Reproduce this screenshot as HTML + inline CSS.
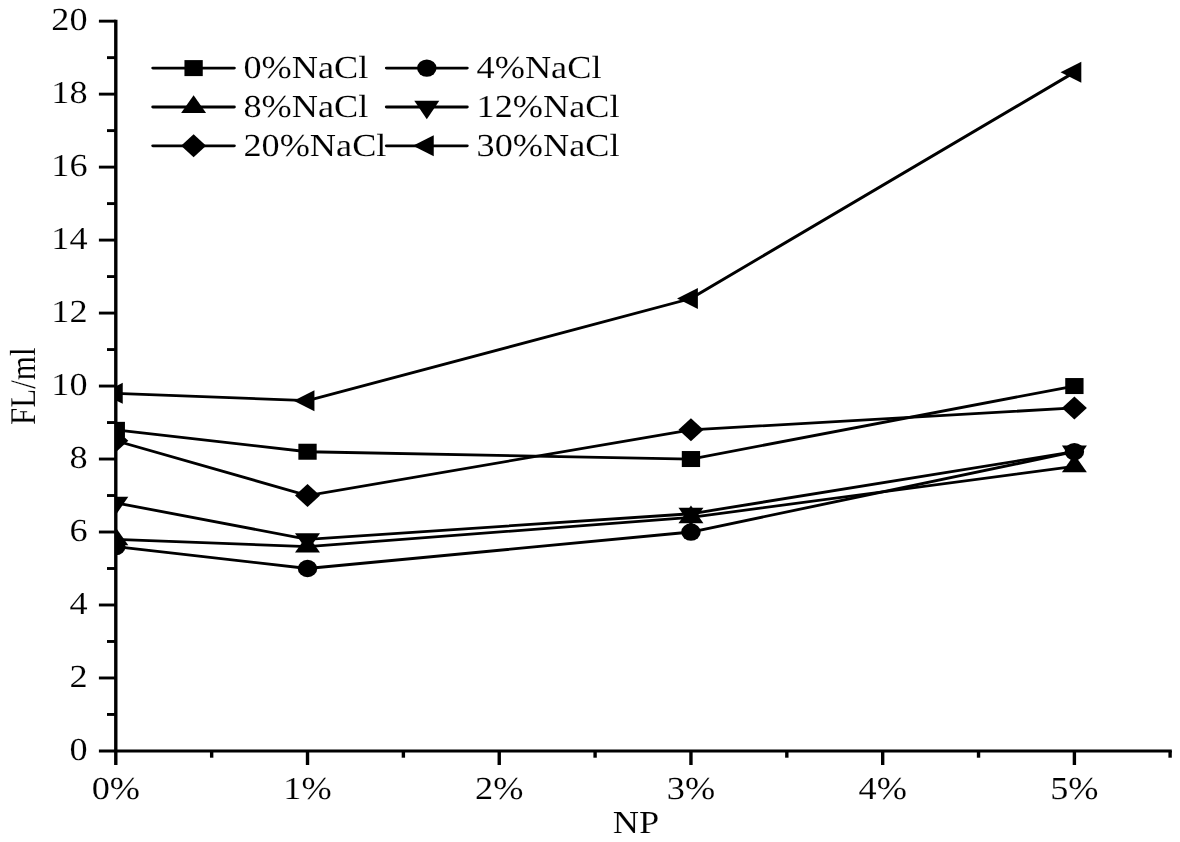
<!DOCTYPE html>
<html><head><meta charset="utf-8"><title>FL/ml vs NP</title>
<style>html,body{margin:0;padding:0;background:#fff;width:1180px;height:842px;overflow:hidden}body{position:relative}</style>
</head><body>
<svg width="1180" height="842" viewBox="0 0 1008.55 842" preserveAspectRatio="none" style="position:absolute;left:0;top:0;text-rendering:geometricPrecision">
<defs><clipPath id="c"><rect x="98.97" y="0" width="1008.55" height="842"/></clipPath></defs>
<g style="font-family:&quot;Liberation Serif&quot;,serif" font-size="32.0" fill="#000">
<g stroke="#000" stroke-width="2.9" fill="none" stroke-linecap="butt">
<line x1="98.97" y1="19.70" x2="98.97" y2="765.00"/>
<line x1="84.53" y1="750.95" x2="1001.54" y2="750.95"/>
<line x1="91.45" y1="714.46" x2="98.97" y2="714.46"/>
<line x1="84.53" y1="677.97" x2="98.97" y2="677.97"/>
<line x1="91.45" y1="641.48" x2="98.97" y2="641.48"/>
<line x1="84.53" y1="604.99" x2="98.97" y2="604.99"/>
<line x1="91.45" y1="568.50" x2="98.97" y2="568.50"/>
<line x1="84.53" y1="532.01" x2="98.97" y2="532.01"/>
<line x1="91.45" y1="495.52" x2="98.97" y2="495.52"/>
<line x1="84.53" y1="459.03" x2="98.97" y2="459.03"/>
<line x1="91.45" y1="422.54" x2="98.97" y2="422.54"/>
<line x1="84.53" y1="386.05" x2="98.97" y2="386.05"/>
<line x1="91.45" y1="349.56" x2="98.97" y2="349.56"/>
<line x1="84.53" y1="313.07" x2="98.97" y2="313.07"/>
<line x1="91.45" y1="276.58" x2="98.97" y2="276.58"/>
<line x1="84.53" y1="240.09" x2="98.97" y2="240.09"/>
<line x1="91.45" y1="203.60" x2="98.97" y2="203.60"/>
<line x1="84.53" y1="167.11" x2="98.97" y2="167.11"/>
<line x1="91.45" y1="130.62" x2="98.97" y2="130.62"/>
<line x1="84.53" y1="94.13" x2="98.97" y2="94.13"/>
<line x1="91.45" y1="57.64" x2="98.97" y2="57.64"/>
<line x1="84.53" y1="21.15" x2="98.97" y2="21.15"/>
<line x1="180.91" y1="750.95" x2="180.91" y2="757.70"/>
<line x1="262.84" y1="750.95" x2="262.84" y2="765.00"/>
<line x1="344.77" y1="750.95" x2="344.77" y2="757.70"/>
<line x1="426.70" y1="750.95" x2="426.70" y2="765.00"/>
<line x1="508.63" y1="750.95" x2="508.63" y2="757.70"/>
<line x1="590.56" y1="750.95" x2="590.56" y2="765.00"/>
<line x1="672.50" y1="750.95" x2="672.50" y2="757.70"/>
<line x1="754.43" y1="750.95" x2="754.43" y2="765.00"/>
<line x1="836.36" y1="750.95" x2="836.36" y2="757.70"/>
<line x1="918.29" y1="750.95" x2="918.29" y2="765.00"/>
<line x1="1000.09" y1="750.95" x2="1000.09" y2="757.70"/>
</g>
<text transform="translate(74.87,759.85) scale(0.9684,1)" font-size="32.0" text-anchor="end" stroke="#fff" stroke-width="0.12">0</text>
<text transform="translate(74.87,686.87) scale(0.9684,1)" font-size="32.0" text-anchor="end" stroke="#fff" stroke-width="0.12">2</text>
<text transform="translate(74.87,613.89) scale(0.9684,1)" font-size="32.0" text-anchor="end" stroke="#fff" stroke-width="0.12">4</text>
<text transform="translate(74.87,540.91) scale(0.9684,1)" font-size="32.0" text-anchor="end" stroke="#fff" stroke-width="0.12">6</text>
<text transform="translate(74.87,467.93) scale(0.9684,1)" font-size="32.0" text-anchor="end" stroke="#fff" stroke-width="0.12">8</text>
<text transform="translate(74.87,394.95) scale(0.9684,1)" font-size="32.0" text-anchor="end" stroke="#fff" stroke-width="0.12">10</text>
<text transform="translate(74.87,321.97) scale(0.9684,1)" font-size="32.0" text-anchor="end" stroke="#fff" stroke-width="0.12">12</text>
<text transform="translate(74.87,248.99) scale(0.9684,1)" font-size="32.0" text-anchor="end" stroke="#fff" stroke-width="0.12">14</text>
<text transform="translate(74.87,176.01) scale(0.9684,1)" font-size="32.0" text-anchor="end" stroke="#fff" stroke-width="0.12">16</text>
<text transform="translate(74.87,103.03) scale(0.9684,1)" font-size="32.0" text-anchor="end" stroke="#fff" stroke-width="0.12">18</text>
<text transform="translate(74.87,30.05) scale(0.9684,1)" font-size="32.0" text-anchor="end" stroke="#fff" stroke-width="0.12">20</text>
<text transform="translate(98.97,799.30) scale(0.9684,1)" font-size="32.0" text-anchor="middle" stroke="#fff" stroke-width="0.12">0%</text>
<text transform="translate(262.84,799.30) scale(0.9684,1)" font-size="32.0" text-anchor="middle" stroke="#fff" stroke-width="0.12">1%</text>
<text transform="translate(426.70,799.30) scale(0.9684,1)" font-size="32.0" text-anchor="middle" stroke="#fff" stroke-width="0.12">2%</text>
<text transform="translate(590.56,799.30) scale(0.9684,1)" font-size="32.0" text-anchor="middle" stroke="#fff" stroke-width="0.12">3%</text>
<text transform="translate(754.43,799.30) scale(0.9684,1)" font-size="32.0" text-anchor="middle" stroke="#fff" stroke-width="0.12">4%</text>
<text transform="translate(918.29,799.30) scale(0.9684,1)" font-size="32.0" text-anchor="middle" stroke="#fff" stroke-width="0.12">5%</text>
<text transform="translate(543.59,833.40) scale(0.9684,1)" font-size="32.0" text-anchor="middle" stroke="#fff" stroke-width="0.12">NP</text>
<text transform="translate(29.91,386.20) scale(1.0000,1) rotate(-90)" font-size="31.0" text-anchor="middle" stroke="#fff" stroke-width="0.12">FL/ml</text>
<g clip-path="url(#c)">
<polyline points="98.97,429.84 262.84,451.73 590.56,459.03 918.29,386.05" fill="none" stroke="#000" stroke-width="2.8" stroke-linejoin="miter"/>
<polyline points="98.97,546.61 262.84,568.50 590.56,532.01 918.29,451.73" fill="none" stroke="#000" stroke-width="2.8" stroke-linejoin="miter"/>
<polyline points="98.97,539.31 262.84,546.61 590.56,517.41 918.29,466.33" fill="none" stroke="#000" stroke-width="2.8" stroke-linejoin="miter"/>
<polyline points="98.97,502.82 262.84,539.31 590.56,513.77 918.29,451.73" fill="none" stroke="#000" stroke-width="2.8" stroke-linejoin="miter"/>
<polyline points="98.97,440.79 262.84,495.52 590.56,429.84 918.29,407.94" fill="none" stroke="#000" stroke-width="2.8" stroke-linejoin="miter"/>
<polyline points="98.97,393.35 262.84,400.65 590.56,298.47 918.29,72.24" fill="none" stroke="#000" stroke-width="2.8" stroke-linejoin="miter"/>
<rect x="91.15" y="421.84" width="15.64" height="16.00"/>
<rect x="255.02" y="443.73" width="15.64" height="16.00"/>
<rect x="582.74" y="451.03" width="15.64" height="16.00"/>
<rect x="910.47" y="378.05" width="15.64" height="16.00"/>
<ellipse cx="98.97" cy="546.61" rx="8.33" ry="8.65"/>
<ellipse cx="262.84" cy="568.50" rx="8.33" ry="8.65"/>
<ellipse cx="590.56" cy="532.01" rx="8.33" ry="8.65"/>
<ellipse cx="918.29" cy="451.73" rx="8.33" ry="8.65"/>
<polygon points="98.97,527.44 109.66,545.24 88.29,545.24"/>
<polygon points="262.84,534.74 273.52,552.54 252.15,552.54"/>
<polygon points="590.56,505.55 601.25,523.35 579.88,523.35"/>
<polygon points="918.29,454.46 928.97,472.26 907.61,472.26"/>
<polygon points="98.97,515.08 109.66,496.68 88.29,496.68"/>
<polygon points="262.84,551.57 273.52,533.17 252.15,533.17"/>
<polygon points="590.56,526.03 601.25,507.63 579.88,507.63"/>
<polygon points="918.29,464.00 928.97,445.60 907.61,445.60"/>
<polygon points="98.97,429.29 109.66,440.79 98.97,452.29 88.29,440.79"/>
<polygon points="262.84,484.02 273.52,495.52 262.84,507.02 252.15,495.52"/>
<polygon points="590.56,418.34 601.25,429.84 590.56,441.34 579.88,429.84"/>
<polygon points="918.29,396.44 928.97,407.94 918.29,419.44 907.61,407.94"/>
<polygon points="87.12,393.35 104.90,382.85 104.90,403.85"/>
<polygon points="250.99,400.65 268.76,390.15 268.76,411.15"/>
<polygon points="578.71,298.47 596.49,287.97 596.49,308.97"/>
<polygon points="906.44,72.24 924.22,61.74 924.22,82.74"/>
</g>
<line x1="130.68" y1="68.10" x2="200.17" y2="68.10" stroke="#000" stroke-width="2.8" stroke-linecap="round"/>
<rect x="157.65" y="60.10" width="15.64" height="16.00"/>
<text transform="translate(208.03,78.30) scale(0.9684,1)" font-size="32.0" stroke="#fff" stroke-width="0.12">0%NaCl</text>
<line x1="330.34" y1="68.10" x2="399.23" y2="68.10" stroke="#000" stroke-width="2.8" stroke-linecap="round"/>
<ellipse cx="364.79" cy="68.10" rx="8.33" ry="8.65"/>
<text transform="translate(407.35,78.30) scale(0.9684,1)" font-size="32.0" stroke="#fff" stroke-width="0.12">4%NaCl</text>
<line x1="130.68" y1="107.00" x2="200.17" y2="107.00" stroke="#000" stroke-width="2.8" stroke-linecap="round"/>
<polygon points="165.47,95.13 176.15,112.93 154.79,112.93"/>
<text transform="translate(208.03,117.20) scale(0.9684,1)" font-size="32.0" stroke="#fff" stroke-width="0.12">8%NaCl</text>
<line x1="330.34" y1="107.00" x2="399.23" y2="107.00" stroke="#000" stroke-width="2.8" stroke-linecap="round"/>
<polygon points="364.79,119.27 375.47,100.87 354.10,100.87"/>
<text transform="translate(407.35,117.20) scale(0.9684,1)" font-size="32.0" stroke="#fff" stroke-width="0.12">12%NaCl</text>
<line x1="130.68" y1="145.85" x2="200.17" y2="145.85" stroke="#000" stroke-width="2.8" stroke-linecap="round"/>
<polygon points="165.47,134.35 176.15,145.85 165.47,157.35 154.79,145.85"/>
<text transform="translate(208.03,156.05) scale(0.9684,1)" font-size="32.0" stroke="#fff" stroke-width="0.12">20%NaCl</text>
<line x1="330.34" y1="145.85" x2="399.23" y2="145.85" stroke="#000" stroke-width="2.8" stroke-linecap="round"/>
<polygon points="352.93,145.85 370.71,135.35 370.71,156.35"/>
<text transform="translate(407.35,156.05) scale(0.9684,1)" font-size="32.0" stroke="#fff" stroke-width="0.12">30%NaCl</text>
</g></svg>
</body></html>
